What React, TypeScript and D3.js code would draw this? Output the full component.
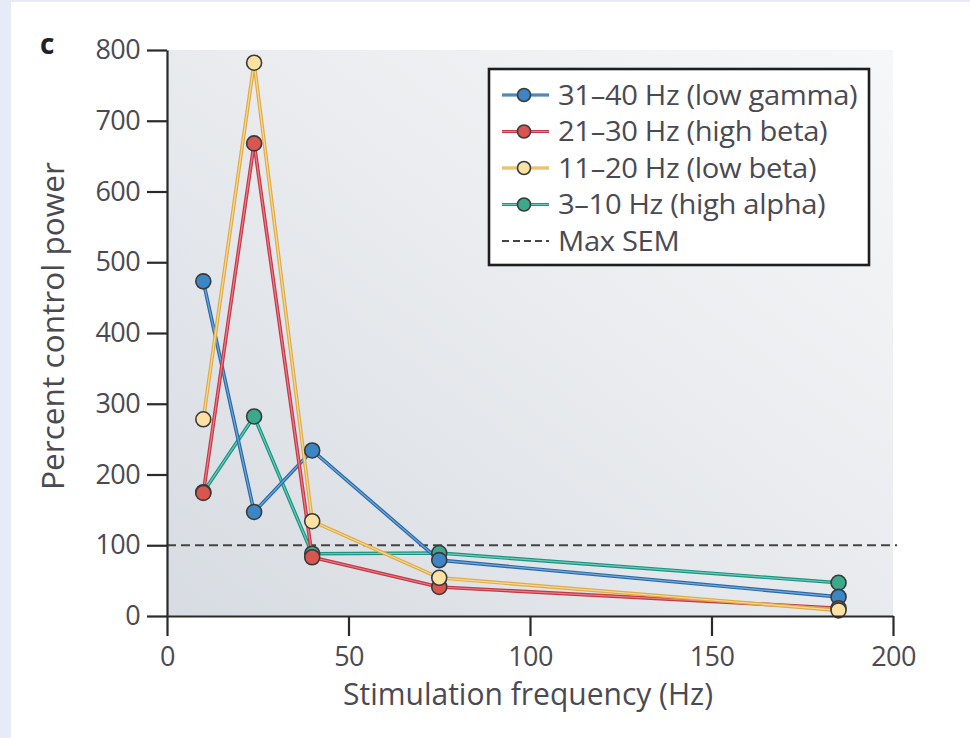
import * as d3 from "d3"
import { useRef, useEffect } from "react"

// stimulation frequencies (Hz)
const freqs = [10, 24, 40, 75, 185]
// percent control power per band
const lowGamma = [473, 147, 234, 79, 27]
const highBeta = [174, 668, 83, 41, 11]
const lowBeta = [278, 782, 134, 54, 8]
const highAlpha = [175, 282, 88, 89, 47]
const maxSem = 100

const seriesNames = ["31–40 Hz (low gamma)", "21–30 Hz (high beta)", "11–20 Hz (low beta)", "3–10 Hz (high alpha)"]
const xTicks = [0, 50, 100, 150, 200]
const yTicks = [0, 100, 200, 300, 400, 500, 600, 700, 800]

const edgeColors = ["#2c6aa6", "#c23a48", "#deab4a", "#1f9282"]
const coreColors = ["#6fa9dc", "#f07a84", "#fbd98a", "#66cdb8"]
const fillColors = ["#3d86c6", "#d9554f", "#fbe2a2", "#3aa98c"]

const App = () => {
  const svgRef = useRef<SVGSVGElement>(null)
  const width = 970
  const height = 738
  const left = 167
  const right = 893
  const top = 50
  const bottom = 616
  const font = "'Open Sans', 'Noto Sans', sans-serif"
  const textColor = "#4a4a52"

  useEffect(() => {
    const svg = d3.select(svgRef.current)
    svg.selectAll("*").remove()

    const x = d3.scaleLinear().domain([0, 200]).range([left, right])
    const y = d3.scaleLinear().domain([0, 800]).range([bottom, top])

    // page background + white card
    svg.append("rect").attr("width", width).attr("height", height).attr("fill", "#e7ebf8")
    svg.append("rect").attr("x", 11).attr("y", 2).attr("width", width - 11).attr("height", height - 2).attr("fill", "#ffffff")

    // plot area gradient
    const defs = svg.append("defs")
    const grad = defs.append("linearGradient").attr("id", "bg").attr("x1", "0").attr("y1", "1").attr("x2", "1").attr("y2", "0")
    grad.append("stop").attr("offset", "0%").attr("stop-color", "#d7dce2")
    grad.append("stop").attr("offset", "55%").attr("stop-color", "#eaecef")
    grad.append("stop").attr("offset", "100%").attr("stop-color", "#f6f7f8")
    svg.append("rect")
      .attr("x", left).attr("y", top).attr("width", right - left).attr("height", bottom - top)
      .attr("fill", "url(#bg)")

    // max SEM dashed line
    svg.append("line")
      .attr("x1", left).attr("x2", right + 4)
      .attr("y1", y(maxSem)).attr("y2", y(maxSem))
      .attr("stroke", "#444").attr("stroke-width", 2.2).attr("stroke-dasharray", "9,5")

    // series
    const all = [lowGamma, highBeta, lowBeta, highAlpha]
    const line = d3.line<[number, number]>().x((d) => x(d[0])).y((d) => y(d[1]))
    const order = [3, 0, 1, 2]
    order.forEach((i) => {
      const pts = freqs.map((f, j) => [f, all[i][j]] as [number, number])
      svg.append("path").attr("d", line(pts)).attr("fill", "none")
        .attr("stroke", edgeColors[i]).attr("stroke-width", 3.6).attr("stroke-linejoin", "round")
      svg.append("path").attr("d", line(pts)).attr("fill", "none")
        .attr("stroke", coreColors[i]).attr("stroke-width", 1.2).attr("stroke-linejoin", "round")
    })
    order.forEach((i) => {
      const pts = freqs.map((f, j) => [f, all[i][j]] as [number, number])
      svg.append("g").selectAll("circle").data(pts).join("circle")
        .attr("cx", (d) => x(d[0])).attr("cy", (d) => y(d[1])).attr("r", 7.5)
        .attr("fill", fillColors[i]).attr("stroke", "#3a3a3a").attr("stroke-width", 1.6)
    })

    // axes
    const yAxis = svg.append("g").attr("transform", `translate(${left},0)`)
      .call(d3.axisLeft(y).tickValues(yTicks).tickSize(20).tickSizeOuter(0).tickPadding(7))
    const xAxis = svg.append("g").attr("transform", `translate(0,${bottom})`)
      .call(d3.axisBottom(x).tickValues(xTicks).tickSize(20).tickSizeOuter(0).tickPadding(11))
    ;[yAxis, xAxis].forEach((a) => {
      a.selectAll("path, line").attr("stroke", "#2a2a2a").attr("stroke-width", 2.2)
      a.selectAll("text").attr("font-family", font).attr("font-size", 27).attr("fill", textColor)
        .attr("letter-spacing", -0.6)
    })

    // axis titles
    svg.append("text").attr("transform", `translate(64,326) rotate(-90)`)
      .attr("text-anchor", "middle").attr("font-family", font).attr("font-size", 31)
      .attr("textLength", 328).attr("lengthAdjust", "spacingAndGlyphs")
      .attr("fill", textColor).text("Percent control power")
    svg.append("text").attr("x", 528).attr("y", 705)
      .attr("text-anchor", "middle").attr("font-family", font).attr("font-size", 31)
      .attr("textLength", 370).attr("lengthAdjust", "spacingAndGlyphs")
      .attr("fill", textColor).text("Stimulation frequency (Hz)")

    // panel label
    svg.append("text").attr("x", 40).attr("y", 54).attr("font-family", font).attr("font-weight", 700)
      .attr("font-size", 28).attr("fill", "#222").text("c")

    // legend
    const lg = svg.append("g")
    lg.append("rect").attr("x", 489).attr("y", 69).attr("width", 380).attr("height", 196)
      .attr("fill", "#ffffff").attr("stroke", "#1e1e1e").attr("stroke-width", 2.6)
    const rowY = (k: number) => 95 + k * 36.5
    const legendText = (label: string, k: number) =>
      lg.append("text").attr("transform", `translate(558,${rowY(k)}) scale(1.1,1)`).attr("dy", "0.37em")
        .attr("font-family", font).attr("font-size", 26.5).attr("letter-spacing", -0.3)
        .attr("fill", textColor).text(label)
    seriesNames.forEach((name, i) => {
      lg.append("line").attr("x1", 502).attr("x2", 549).attr("y1", rowY(i)).attr("y2", rowY(i))
        .attr("stroke", edgeColors[i]).attr("stroke-width", 3)
      lg.append("line").attr("x1", 502).attr("x2", 549).attr("y1", rowY(i)).attr("y2", rowY(i))
        .attr("stroke", coreColors[i]).attr("stroke-width", 1)
      lg.append("circle").attr("cx", 524).attr("cy", rowY(i)).attr("r", 6.5)
        .attr("fill", fillColors[i]).attr("stroke", "#3a3a3a").attr("stroke-width", 1.6)
      legendText(name, i)
    })
    lg.append("line").attr("x1", 502).attr("x2", 549).attr("y1", rowY(4)).attr("y2", rowY(4))
      .attr("stroke", "#444").attr("stroke-width", 2).attr("stroke-dasharray", "7,4")
    legendText("Max SEM", 4)
  }, [])

  return (
    <svg ref={svgRef} width={width} height={height} style={{ position: "absolute", left: 0, top: 0 }}></svg>
  )
}

export default App
